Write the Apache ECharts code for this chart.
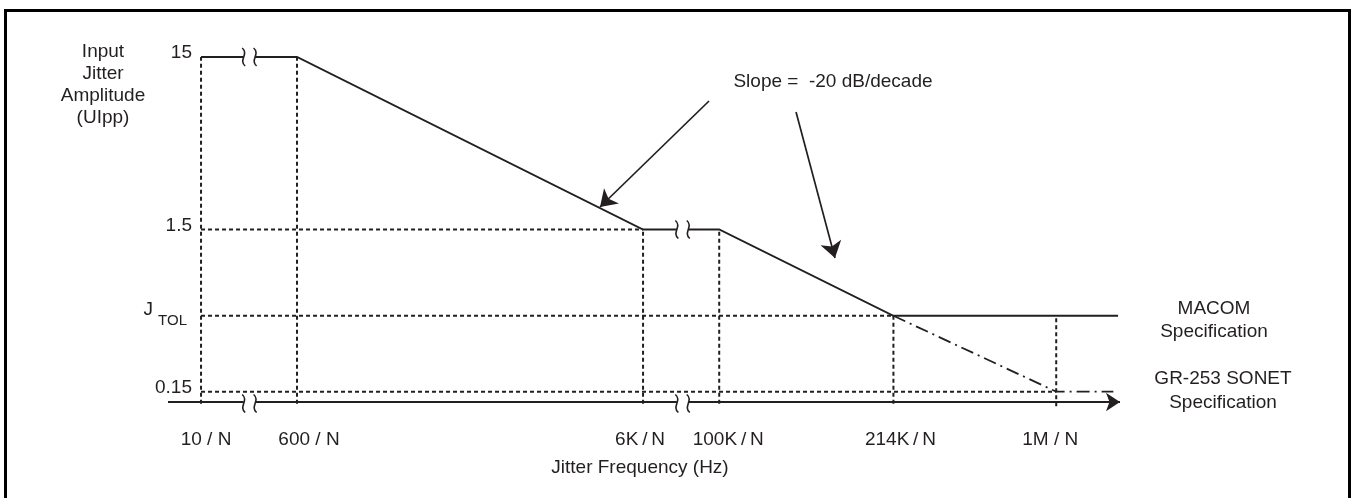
<!DOCTYPE html>
<html><head><meta charset="utf-8">
<script src="https://cdn.jsdelivr.net/npm/echarts@6/dist/echarts.min.js"></script>
<style>html,body{margin:0;padding:0;background:#fff}#c{width:1352px;height:498px}</style>
</head><body><div id="c"></div>
<script>
// ---------- data (schematic diagram: broken log axes) ----------
const freqLabels = ['10 / N', '600 / N', '6K\u2009/\u2009N', '100K\u2009/\u2009N', '214K\u2009/\u2009N', '1M / N'];
const freqPos = [3.47, 13.55, 49.9, 57.9, 76.2, 93.3];       // position on the broken frequency axis
const ampLabels = ['15', '1.5', 'J_TOL', '0.15'];
const ampPos = [100, 50, 25, 3];                              // position on the amplitude axis
const axisBreaks = [[7.95, 9.15], [53.45, 54.65]];            // axis break marks (between 10/N-600/N and 6K/N-100K/N)
const curveEnd = 99.8;
const sonetEnd = 99.3;
const axisEnd = 100;
const slopeArrows = [[[56.83, 87.25], [45.38, 56.52]], [[65.97, 84.06], [70.06, 41.74]]];
const slopeText = 'Slope =  -20 dB/decade';
const specLabels = ['MACOM\nSpecification', 'GR-253 SONET\nSpecification'];
const xTitle = 'Jitter Frequency (Hz)';
const yTitle = 'Input\nJitter\nAmplitude\n(UIpp)';

// ---------- build ----------
const FONT = '"Liberation Sans", Arial, Helvetica, sans-serif';
const INK = '#231f20';
const [f10, f600, f6k, f100k, f214k, f1m] = freqPos;
const [a15, a1p5, aJ, a015] = ampPos;
const [bA, bB] = axisBreaks;
// small horizontal nudges (px) of the frequency labels relative to their marker lines
const labelNudge = [5, 12, -3, 9, 7, -6];

const macomSegs = [
  [[f10, a15], [bA[0], a15]],
  [[bA[1], a15], [f600, a15], [f6k, a1p5], [bB[0], a1p5]],
  [[bB[1], a1p5], [f100k, a1p5], [f214k, aJ], [curveEnd, aJ]]
];
const sonetSeg = [[f214k, aJ], [f1m, a015], [sonetEnd, a015]];
const dashedSegs = [
  [[f10, a1p5], [f6k, a1p5]], [[f10, aJ], [f214k, aJ]], [[f10, a015], [f1m, a015]],
  [[f10, -0.5], [f10, a15]], [[f600, -0.5], [f600, a15]],
  [[f6k, -0.5], [f6k, a1p5]], [[f100k, -0.5], [f100k, a1p5]],
  [[f214k, -0.5], [f214k, aJ]], [[f1m, -1.2], [f1m, aJ]]
];
const axisSegs = [[[0, 0], [bA[0], 0]], [[bA[1], 0], [bB[0], 0]]];
const axisLast = [[bB[1], 0], [axisEnd, 0]];
const breakMarks = [
  [bA[0], a15], [bA[1], a15], [bA[0], 0], [bA[1], 0],
  [bB[0], a1p5], [bB[1], a1p5], [bB[0], 0], [bB[1], 0]
];

function nearest(arr, v) {
  let bi = 0, bd = Infinity;
  arr.forEach((p, i) => { const d = Math.abs(p - v); if (d < bd) { bd = d; bi = i; } });
  return bi;
}

const xRich = {};
labelNudge.forEach((n, i) => {
  xRich['l' + i] = { fontSize: 19, fontFamily: FONT, color: INK,
    padding: n >= 0 ? [0, 0, 0, 2 * n] : [0, -2 * n, 0, 0] };
});

const chart = echarts.init(document.getElementById('c'));
chart.setOption({
  animation: false,
  backgroundColor: '#fff',
  textStyle: { fontFamily: FONT, color: INK },
  grid: { left: 168, right: 232, top: 57, bottom: 96, containLabel: false },
  xAxis: {
    type: 'value', min: 0, max: 100,
    axisLine: { show: false }, axisTick: { show: false }, splitLine: { show: false },
    axisLabel: {
      customValues: freqPos, margin: 28, fontSize: 19, color: INK, fontFamily: FONT,
      formatter: v => { const i = nearest(freqPos, v); return '{l' + i + '|' + freqLabels[i] + '}'; },
      rich: xRich
    }
  },
  yAxis: {
    type: 'value', min: 0, max: 100,
    axisLine: { show: false }, axisTick: { show: false }, splitLine: { show: false },
    axisLabel: {
      customValues: ampPos, margin: -24, color: INK, fontFamily: FONT,
      formatter: v => {
        const l = ampLabels[nearest(ampPos, v)];
        return l === 'J_TOL' ? '{j|J}{s|TOL}' : '{n|' + l + '}';
      },
      rich: {
        n: { fontSize: 19, fontFamily: FONT, color: INK, padding: [0, 0, 8, 0] },
        j: { fontSize: 19, fontFamily: FONT, color: INK, verticalAlign: 'top' },
        s: { fontSize: 15, fontFamily: FONT, color: INK, verticalAlign: 'bottom', padding: [13, 5, 2, 5] }
      }
    }
  },
  series: [
    { type: 'lines', coordinateSystem: 'cartesian2d', polyline: true, silent: true, clip: false,
      lineStyle: { color: INK, width: 2, type: [4, 3], opacity: 1 },
      data: dashedSegs.map(c => ({ coords: c })) },
    { type: 'lines', coordinateSystem: 'cartesian2d', polyline: true, silent: true, clip: false,
      lineStyle: { color: INK, width: 1.8, type: [13, 5, 2, 5], opacity: 1 },
      data: [{ coords: sonetSeg }] },
    { type: 'lines', coordinateSystem: 'cartesian2d', polyline: true, silent: true, clip: false,
      lineStyle: { color: INK, width: 1.9, opacity: 1 },
      data: macomSegs.map(c => ({ coords: c })) },
    { type: 'lines', coordinateSystem: 'cartesian2d', polyline: true, silent: true, clip: false,
      lineStyle: { color: INK, width: 2, opacity: 1 },
      data: axisSegs.map(c => ({ coords: c })) },
    { type: 'lines', coordinateSystem: 'cartesian2d', silent: true, clip: false,
      symbol: ['none', 'arrow'], symbolSize: 14,
      lineStyle: { color: INK, width: 2, opacity: 1 },
      data: [{ coords: axisLast }] },
    { type: 'lines', coordinateSystem: 'cartesian2d', silent: true, clip: false,
      symbol: ['none', 'arrow'], symbolSize: 16,
      lineStyle: { color: INK, width: 1.7, opacity: 1 },
      data: slopeArrows.map(c => ({ coords: c })) },
    { type: 'custom', coordinateSystem: 'cartesian2d', silent: true, clip: false,
      data: breakMarks,
      renderItem: (params, api) => {
        const p = api.coord([api.value(0), api.value(1)]);
        const dy = api.value(1) === 0 ? 1.5 : 0;
        const c = [p[0], p[1] + dy];
        return {
          type: 'bezierCurve',
          shape: { x1: c[0] - 1.5, y1: c[1] - 9, cpx1: c[0] + 5.5, cpy1: c[1] - 3, cpx2: c[0] - 5.5, cpy2: c[1] + 3, x2: c[0] + 1.5, y2: c[1] + 9 },
          style: { stroke: INK, lineWidth: 1.6, fill: null }
        };
      }
    }
  ],
  graphic: [
    { type: 'rect', silent: true, shape: { x: 5.5, y: 10.5, width: 1344, height: 600 },
      style: { fill: null, stroke: '#000', lineWidth: 3 } },
    { type: 'text', silent: true, x: 103, y: 41,
      style: { text: yTitle, font: '19px ' + FONT, fill: INK, align: 'center', verticalAlign: 'top', lineHeight: 22 } },
    { type: 'text', silent: true, x: 833, y: 82,
      style: { text: slopeText, font: '19px ' + FONT, fill: INK, align: 'center', verticalAlign: 'middle' } },
    { type: 'text', silent: true, x: 640, y: 468,
      style: { text: xTitle, font: '19px ' + FONT, fill: INK, align: 'center', verticalAlign: 'middle' } },
    { type: 'text', silent: true, x: 1214, y: 297.5,
      style: { text: specLabels[0], font: '19px ' + FONT, fill: INK, align: 'center', verticalAlign: 'top', lineHeight: 23 } },
    { type: 'text', silent: true, x: 1223, y: 367,
      style: { text: specLabels[1], font: '19px ' + FONT, fill: INK, align: 'center', verticalAlign: 'top', lineHeight: 24 } }
  ]
});
</script></body></html>
